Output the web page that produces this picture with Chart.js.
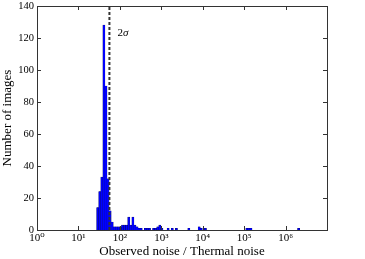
<!DOCTYPE html>
<html>
<head>
<meta charset="utf-8">
<script src="https://cdn.jsdelivr.net/npm/chart.js@4"></script>
<style>
  html, body { margin: 0; padding: 0; background: #fff; }
  canvas { display: block; }
</style>
</head>
<body>
<canvas id="noise-hist" width="365" height="259"></canvas>
<script>
// log10 of each histogram bin centre (bins are 0.05 dex wide), empty bins left out
const binCenterLog = [1.465, 1.515, 1.565, 1.615, 1.665, 1.715, 1.765, 1.815, 1.865, 1.915,
    1.965, 2.015, 2.065, 2.115, 2.165, 2.215, 2.265, 2.315, 2.365, 2.415,
    2.465, 2.515, 2.615, 2.665, 2.715, 2.815, 2.865, 2.915, 2.965, 3.015,
    3.165, 3.265, 3.365, 3.665, 3.915, 3.965, 4.065, 5.065, 5.115, 5.165, 6.315];
const imageCounts = [14, 24, 33, 128, 90, 32, 12, 5, 2, 2,
    2, 2, 3, 3, 3, 8, 3, 8, 3, 2,
    1, 1, 1, 1, 1, 1, 1, 2, 3, 1,
    1, 1, 1, 1, 2, 1, 1, 1, 1, 1, 1];

const xTicks = [1, 10, 100, 1000, 10000, 100000, 1000000];
const xTickLabels = ['10⁰', '10¹', '10²', '10³', '10⁴', '10⁵', '10⁶'];
const yTicks = [0, 20, 40, 60, 80, 100, 120, 140];

const sigmaLine = 56;        // 2 sigma threshold
const sigmaLabel = ['2', 'σ'];
const sigmaLabelY = 123;

Chart.defaults.font.family = '"Liberation Serif", "DejaVu Serif", serif';
Chart.defaults.color = '#000';

// matplotlib-style box with inward ticks, and the 2σ note
const frame = {
    id: 'frame',
    afterDatasetsDraw(chart) {
        const { ctx, chartArea: a, scales: { x, y } } = chart;
        ctx.save();
        ctx.strokeStyle = '#333';
        ctx.lineWidth = 1;
        ctx.beginPath();
        x.ticks.forEach((t, i) => {
            const px = Math.round(x.getPixelForTick(i)) + 0.5;
            ctx.moveTo(px, a.bottom); ctx.lineTo(px, a.bottom - 4);
            ctx.moveTo(px, a.top); ctx.lineTo(px, a.top + 4);
        });
        y.ticks.forEach((t, i) => {
            const py = Math.round(y.getPixelForTick(i)) + 0.5;
            ctx.moveTo(a.left, py); ctx.lineTo(a.left + 4, py);
            ctx.moveTo(a.right, py); ctx.lineTo(a.right - 4, py);
        });
        ctx.stroke();
        ctx.strokeRect(Math.round(a.left) + 0.5, Math.round(a.top) + 0.5,
            Math.round(a.right - a.left), Math.round(a.bottom - a.top));

        const lx = x.getPixelForValue(sigmaLine) + 8;
        const ly = y.getPixelForValue(sigmaLabelY);
        ctx.fillStyle = '#000';
        ctx.textBaseline = 'middle';
        ctx.font = '11px "Liberation Serif", serif';
        ctx.fillText(sigmaLabel[0], lx, ly);
        const w = ctx.measureText(sigmaLabel[0]).width;
        ctx.font = 'italic 11px "Liberation Serif", serif';
        ctx.fillText(sigmaLabel[1], lx + w, ly);
        ctx.restore();
    }
};

new Chart(document.getElementById('noise-hist'), {
    type: 'bar',
    data: {
        datasets: [
            {
                type: 'line',
                data: [{ x: sigmaLine, y: 0 }, { x: sigmaLine, y: 140 }],
                borderColor: '#333',
                borderWidth: 2,
                borderDash: [3, 2],
                borderCapStyle: 'butt',
                pointRadius: 0,
                order: 0
            },
            {
                data: binCenterLog.map((c, i) => ({ x: Math.pow(10, c), y: imageCounts[i] })),
                backgroundColor: '#0000ff',
                borderColor: '#000033',
                borderWidth: 0.3,
                borderSkipped: 'bottom',
                barPercentage: 1,
                categoryPercentage: 1,
                order: 1
            }
        ]
    },
    options: {
        responsive: false,
        animation: false,
        layout: { padding: { left: 0, right: 38, top: 6, bottom: 0 } },
        plugins: { legend: { display: false }, tooltip: { enabled: false } },
        scales: {
            x: {
                type: 'logarithmic',
                min: 1,
                max: 1e7,
                offset: false,
                grid: { display: false, drawTicks: false, offset: false },
                border: { display: false },
                afterBuildTicks: s => { s.ticks = xTicks.map(v => ({ value: v })); },
                afterFit: s => { s.height = 29; s.paddingLeft = 0; s.paddingRight = 0; },
                ticks: {
                    autoSkip: false,
                    maxRotation: 0,
                    padding: 2,
                    font: { size: 11 },
                    callback: (v, i) => xTickLabels[i]
                },
                title: {
                    display: true,
                    text: 'Observed noise / Thermal noise',
                    font: { size: 13 },
                    padding: { top: 0, bottom: 0 }
                }
            },
            y: {
                min: 0,
                max: 140,
                grid: { display: false, drawTicks: false },
                border: { display: false },
                afterBuildTicks: s => { s.ticks = yTicks.map(v => ({ value: v })); },
                afterFit: s => { s.width = 37; s.paddingTop = 0; s.paddingBottom = 0; },
                ticks: { padding: 3, font: { size: 10.5 } },
                title: {
                    display: true,
                    text: 'Number of images',
                    font: { size: 13 },
                    padding: { top: 0, bottom: 0 }
                }
            }
        }
    },
    plugins: [frame]
});
</script>
</body>
</html>
